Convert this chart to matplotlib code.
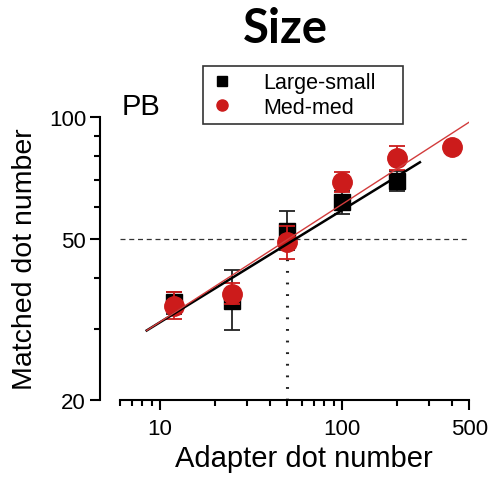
import matplotlib
matplotlib.use("Agg")
from matplotlib import pyplot as plt
from matplotlib.lines import Line2D

# adapter numerosity and matched numerosity (observer PB)
adapter_ls = [12, 25, 50, 100, 200]
matched_ls = [34.9, 35.2, 52.4, 61.6, 69.6]
ls_low = [32.6, 29.8, 47.0, 57.6, 65.8]
ls_high = [37.0, 41.9, 58.5, 65.8, 73.6]

adapter_mm = [12, 25, 50, 100, 200, 400]
matched_mm = [34.2, 36.6, 49.0, 69.0, 79.1, 84.2]
mm_low = [31.7, 34.6, 44.7, 65.3, 74.0, 82.0]
mm_high = [36.9, 38.8, 53.7, 73.0, 84.7, 86.5]

# power-law fits (end points of the fitted lines)
fit_ls_x = [8.45, 268]
fit_ls_y = [29.7, 77.3]
fit_mm_x = [8.45, 505]
fit_mm_y = [29.7, 97.4]

ref_value = 50

red = '#cc1b1b'
plt.rcParams['font.family'] = ['Liberation Sans', 'DejaVu Sans']

fig = plt.figure(figsize=(4.89, 4.85), dpi=100)
ax = fig.add_axes([0.2045, 0.1732, 0.755, 0.5835])
ax.set_xscale('log')
ax.set_yscale('log')
ax.set_xlim(4.68, 500)
ax.set_ylim(20, 100)

# reference lines
ax.plot([6, 485], [ref_value, ref_value], color='#333333', lw=0.9, ls=(0, (4, 3)), zorder=1)
ax.plot([ref_value, ref_value], [20, ref_value], color='#222222', lw=2.2, ls=(0, (0.6, 3.2)),
        dash_capstyle='butt', zorder=1)

# error bars
ls_err = [[m - l for m, l in zip(matched_ls, ls_low)], [h - m for m, h in zip(matched_ls, ls_high)]]
mm_err = [[m - l for m, l in zip(matched_mm, mm_low)], [h - m for m, h in zip(matched_mm, mm_high)]]
ax.errorbar(adapter_ls, matched_ls, yerr=ls_err, fmt='s', color='black', ms=11.5,
            ecolor='#222222', elinewidth=1.3, capsize=5.5, capthick=1.3, zorder=3)
ax.errorbar(adapter_mm, matched_mm, yerr=mm_err, fmt='o', color=red, ms=14,
            ecolor=red, elinewidth=1.3, capsize=5.5, capthick=1.3, zorder=4)

# fitted lines
ax.plot(fit_ls_x, fit_ls_y, color='black', lw=1.8, zorder=5)
ax.plot(fit_mm_x, fit_mm_y, color='#d23c3c', lw=1.0, zorder=6)

ax.set_yticks([20, 50, 100])
ax.set_yticklabels(['20', '50', '100'])
ax.set_yticks([30, 40, 60, 70, 80, 90], minor=True)
ax.set_yticklabels([], minor=True)
ax.set_xticks([10, 100, 500])
ax.set_xticklabels(['10', '100', '500'])
ax.set_xticks([6, 7, 8, 9, 20, 30, 40, 50, 60, 70, 80, 90, 200, 300, 400], minor=True)
ax.set_xticklabels([], minor=True)

for s in ['top', 'right']:
    ax.spines[s].set_visible(False)
for s in ['left', 'bottom']:
    ax.spines[s].set_linewidth(1.5)
ax.spines['bottom'].set_bounds(6, 500)
ax.tick_params(which='major', length=7, width=1.5, labelsize=16, pad=3)
ax.tick_params(axis='x', which='major', pad=6)
ax.tick_params(which='minor', length=4, width=1.5)

ax.set_xlabel('Adapter dot number', fontsize=21)
ax.xaxis.set_label_coords(0.551, -0.155)
ax.set_ylabel('Matched dot number', fontsize=20.5, labelpad=8)

ax.text(0.058, 1.04, 'PB', transform=ax.transAxes, fontsize=21, va='center', ha='left')

handles = [Line2D([], [], ls='none', marker='s', color='black', ms=7),
           Line2D([], [], ls='none', marker='o', color=red, ms=8)]
leg = ax.legend(handles, ['Large-small', 'Med-med'], loc='lower left',
                bbox_to_anchor=(0.279, 0.975, 0.542, 0.2), mode='expand', borderaxespad=0,
                fontsize=15.5, frameon=True, fancybox=False, edgecolor='black',
                handlelength=1.2, handletextpad=1.3, borderpad=0.3, labelspacing=0.15)
leg.get_frame().set_linewidth(1.2)

fig.text(0.583, 0.94, 'Size', fontsize=34, fontweight='bold', family=['Lato', 'DejaVu Sans'],
         ha='center', va='center')

fig.savefig('out.png', dpi=100)
